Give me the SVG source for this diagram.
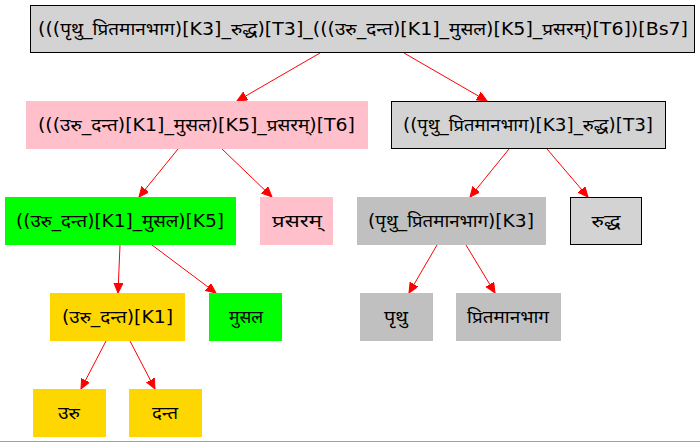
<svg xmlns="http://www.w3.org/2000/svg" width="700" height="443" viewBox="0 0 700 443">
<style>
text{font-family:"DejaVu Sans","Noto Sans","Lohit Devanagari","Noto Sans Devanagari",sans-serif;font-size:17px;fill:#000;text-anchor:middle}
.e line{stroke:#ff0000;stroke-width:1;marker-end:url(#ah)}
.pink{fill:#ffc0cb;stroke:#ffc0cb}
.green{fill:#00ff00;stroke:#00ff00}
.gold{fill:#ffd700;stroke:#ffd700}
.gray{fill:#c0c0c0;stroke:#c0c0c0}
.lgray{fill:#d3d3d3;stroke:#000;stroke-width:1}
</style>
<defs>
<marker id="ah" markerUnits="userSpaceOnUse" markerWidth="12" markerHeight="11" refX="10" refY="4.5" orient="auto">
<path d="M0,0 L10,4.5 L0,9 Z" fill="#ff0000" stroke="#ff0000" stroke-width="1"/>
</marker>
</defs>
<rect x="0" y="0" width="700" height="443" fill="#fff"/>
<line x1="0" y1="441.5" x2="700" y2="441.5" stroke="#a0a0a0" stroke-width="1"/>
<g class="e" id="edges">
<line x1="320" y1="53" x2="237" y2="101"/>
<line x1="404" y1="53" x2="487" y2="101"/>
<line x1="178" y1="149" x2="139" y2="197"/>
<line x1="222" y1="149" x2="272" y2="197"/>
<line x1="509" y1="149" x2="470" y2="197"/>
<line x1="547" y1="149" x2="588" y2="197"/>
<line x1="120" y1="245" x2="118" y2="293"/>
<line x1="152" y1="245" x2="216" y2="293"/>
<line x1="437" y1="245" x2="409" y2="293"/>
<line x1="466" y1="245" x2="495" y2="293"/>
<line x1="106" y1="341" x2="81" y2="389"/>
<line x1="130" y1="341" x2="155" y2="389"/>
</g>
<g id="root"><rect class="lgray" x="30.5" y="5.5" width="664" height="47"/><text x="363" y="35" textLength="650" lengthAdjust="spacingAndGlyphs">(((पृथु_प्रितमानभाग)[K3]_रुद्ध)[T3]_(((उरु_दन्त)[K1]_मुसल)[K5]_प्रसरम्)[T6])[Bs7]</text></g>
<g id="n2"><rect class="pink" x="26.5" y="101.5" width="341" height="47"/><text x="196.5" y="131" textLength="317" lengthAdjust="spacingAndGlyphs">(((उरु_दन्त)[K1]_मुसल)[K5]_प्रसरम्)[T6]</text></g>
<g id="n3"><rect class="lgray" x="391.5" y="101.5" width="274" height="47"/><text x="528" y="131" textLength="250" lengthAdjust="spacingAndGlyphs">((पृथु_प्रितमानभाग)[K3]_रुद्ध)[T3]</text></g>
<g id="n4"><rect class="green" x="5.5" y="197.5" width="230" height="47"/><text x="120" y="227" textLength="208" lengthAdjust="spacingAndGlyphs">((उरु_दन्त)[K1]_मुसल)[K5]</text></g>
<g id="n5"><rect class="pink" x="260.5" y="197.5" width="72" height="47"/><text x="297" y="227" textLength="50" lengthAdjust="spacingAndGlyphs">प्रसरम्</text></g>
<g id="n6"><rect class="gray" x="357.5" y="197.5" width="188" height="47"/><text x="451" y="227" textLength="166" lengthAdjust="spacingAndGlyphs">(पृथु_प्रितमानभाग)[K3]</text></g>
<g id="n7"><rect class="lgray" x="570.5" y="197.5" width="71" height="47"/><text x="606" y="227" textLength="29" lengthAdjust="spacingAndGlyphs">रुद्ध</text></g>
<g id="n8"><rect class="gold" x="50.5" y="293.5" width="134" height="47"/><text x="117.5" y="323" textLength="111" lengthAdjust="spacingAndGlyphs">(उरु_दन्त)[K1]</text></g>
<g id="n9"><rect class="green" x="209.5" y="293.5" width="72" height="47"/><text x="246" y="323" textLength="34" lengthAdjust="spacingAndGlyphs">मुसल</text></g>
<g id="n10"><rect class="gray" x="360.5" y="293.5" width="72" height="47"/><text x="396" y="323" textLength="24" lengthAdjust="spacingAndGlyphs">पृथु</text></g>
<g id="n11"><rect class="gray" x="456.5" y="293.5" width="104" height="47"/><text x="508" y="323" textLength="82" lengthAdjust="spacingAndGlyphs">प्रितमानभाग</text></g>
<g id="n12"><rect class="gold" x="33.5" y="389.5" width="72" height="47"/><text x="69" y="419" textLength="22" lengthAdjust="spacingAndGlyphs">उरु</text></g>
<g id="n13"><rect class="gold" x="129.5" y="389.5" width="72" height="47"/><text x="165" y="419" textLength="26" lengthAdjust="spacingAndGlyphs">दन्त</text></g>
</svg>
